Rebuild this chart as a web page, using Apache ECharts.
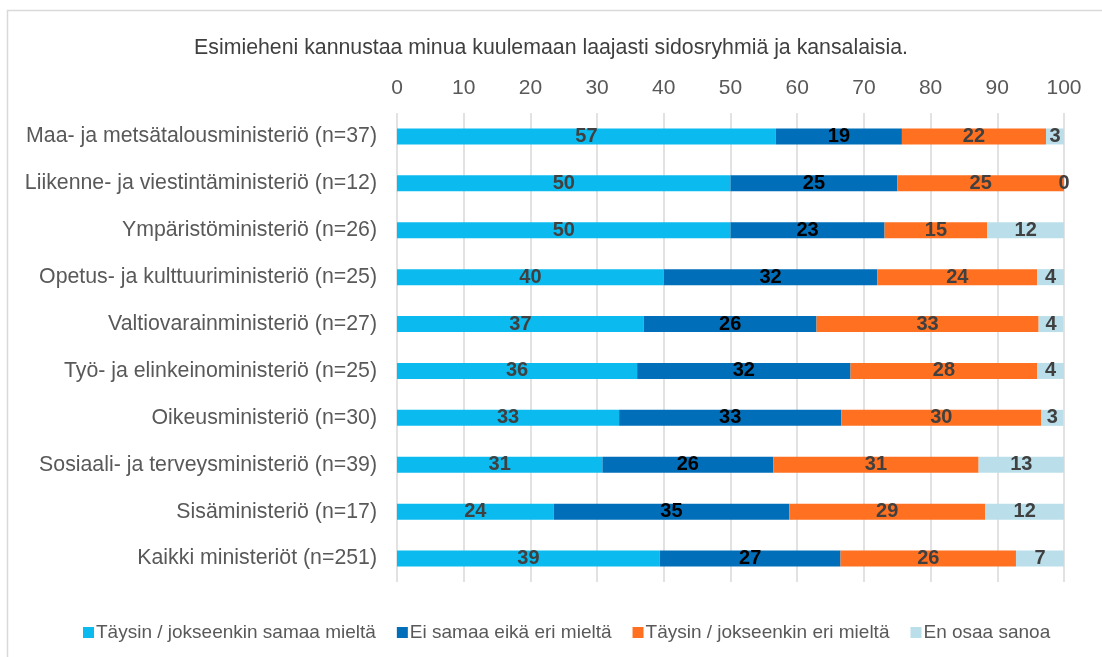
<!DOCTYPE html>
<html>
<head>
<meta charset="utf-8">
<script src="https://cdn.jsdelivr.net/npm/echarts@6/dist/echarts.min.js"></script>
<style>
  html, body { margin: 0; padding: 0; background: #fff; }
  #chart { width: 1102px; height: 657px; }
</style>
</head>
<body>
<div id="chart"></div>
<script>
// ministeriöt ylhäältä alas
const categories = [
  'Maa- ja metsätalousministeriö (n=37)',
  'Liikenne- ja viestintäministeriö (n=12)',
  'Ympäristöministeriö (n=26)',
  'Opetus- ja kulttuuriministeriö (n=25)',
  'Valtiovarainministeriö (n=27)',
  'Työ- ja elinkeinoministeriö (n=25)',
  'Oikeusministeriö (n=30)',
  'Sosiaali- ja terveysministeriö (n=39)',
  'Sisäministeriö (n=17)',
  'Kaikki ministeriöt (n=251)'
]
const samaa = [56.8, 50, 50, 40, 37.0, 36, 33.3, 30.8, 23.5, 39.4]
const eiSamaaEiEri = [18.9, 25, 23.1, 32, 25.9, 32, 33.3, 25.6, 35.3, 27.1]
const eriMielta = [21.6, 25, 15.4, 24, 33.3, 28, 30, 30.8, 29.4, 26.3]
const enOsaa = [2.7, 0, 11.5, 4, 3.7, 4, 3.3, 12.8, 11.8, 7.2]
const xTicks = [0, 10, 20, 30, 40, 50, 60, 70, 80, 90, 100]

const seriesNames = [
  'Täysin / jokseenkin samaa mieltä',
  'Ei samaa eikä eri mieltä',
  'Täysin / jokseenkin eri mieltä',
  'En osaa sanoa'
]
const colors = ['#0bbbef', '#006eb8', '#ff7020', '#badfea']
const labelColors = ['#404040', '#000000', '#404040', '#404040']
const values = [samaa, eiSamaaEiEri, eriMielta, enOsaa]

const font = 'Liberation Sans, Arial, sans-serif'
let myCharts = echarts.init(document.getElementById('chart'))

let series = values.map((arr, i) => ({
  name: seriesNames[i],
  type: 'bar',
  stack: 'total',
  barWidth: 16,
  itemStyle: { color: colors[i] },
  label: {
    show: true,
    position: 'inside',
    color: labelColors[i],
    fontFamily: font,
    fontWeight: 'bold',
    fontSize: 20,
    formatter: p => Math.round(p.value)
  },
  emphasis: { disabled: true },
  data: arr
}))

let option = {
  animation: false,
  textStyle: { fontFamily: font },
  title: {
    text: 'Esimieheni kannustaa minua kuulemaan laajasti sidosryhmiä ja kansalaisia.',
    left: 'center',
    top: 33,
    textStyle: { color: '#404040', fontSize: 21.3, fontWeight: 'normal', fontFamily: font }
  },
  legend: {
    bottom: 10,
    left: 78,
    itemWidth: 11,
    itemHeight: 11,
    itemGap: 21,
    icon: 'rect',
    textStyle: { color: '#595959', fontSize: 19, fontFamily: font, padding: [0, 0, 0, -3] },
    data: seriesNames
  },
  grid: {
    left: 397,
    right: 38,
    top: 113,
    bottom: 75
  },
  xAxis: {
    type: 'value',
    position: 'top',
    min: 0,
    max: 100,
    interval: 10,
    axisLine: { show: false },
    axisTick: { show: false },
    axisLabel: {
      color: '#595959',
      fontSize: 21,
      margin: 14,
      formatter: v => xTicks.includes(v) ? v : ''
    },
    splitLine: { show: true, lineStyle: { color: '#d9d9d9', width: 1.5 } }
  },
  yAxis: {
    type: 'category',
    inverse: true,
    data: categories,
    axisLine: { show: false },
    axisTick: { show: false },
    axisLabel: { color: '#595959', fontSize: 21.3, margin: 20 }
  },
  graphic: [{
    type: 'rect',
    shape: { x: 7.5, y: 10.5, width: 1120, height: 700 },
    style: { fill: 'none', stroke: '#d9d9d9', lineWidth: 1.5 },
    silent: true,
    z: -1
  }],
  series: series
}
myCharts.setOption(option)
window.addEventListener('resize', function () {
  myCharts.resize()
})
</script>
</body>
</html>
